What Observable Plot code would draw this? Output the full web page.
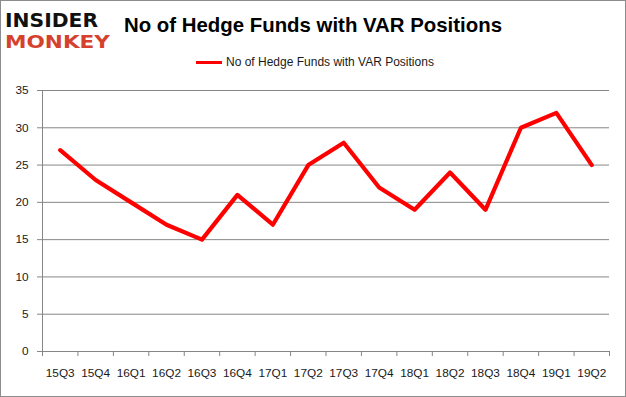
<!DOCTYPE html>
<html>
<head>
<meta charset="utf-8">
<script src="https://cdn.jsdelivr.net/npm/d3@7"></script>
<script src="https://cdn.jsdelivr.net/npm/@observablehq/plot@0.6"></script>
<style>
  html, body { margin: 0; padding: 0; background: #fff; }
  #wrap { position: relative; width: 626px; height: 397px; overflow: hidden; font-family: "Liberation Sans", Arial, sans-serif; }
  #frame { position: absolute; left: 0; top: 0; width: 624px; height: 395px; border: 1px solid #8c8c8c; pointer-events: none; }
  #chart { position: absolute; left: 0; top: 0; }
  #logo { position: absolute; left: 0; top: 0; }
  #title { position: absolute; left: 0; width: 626px; top: 15.3px; text-align: center; font-weight: bold; font-size: 20.4px; line-height: 20.4px; color: #000; }
  #legend { position: absolute; top: 56.4px; left: 196px; font-size: 12px; line-height: 12px; color: #1a1a1a; white-space: nowrap; }
  #legend .sw { display: inline-block; width: 26px; height: 3px; background: #ff0000; vertical-align: middle; margin-right: 4px; position: relative; top: -1px; }
</style>
</head>
<body>
<div id="wrap">
  <div id="chart"></div>
  <svg id="logo" width="120" height="55">
    <text x="5" y="26.5" font-family="DejaVu Sans" font-weight="bold" font-size="19" fill="#111" textLength="93" lengthAdjust="spacingAndGlyphs">INSIDER</text>
    <text x="5" y="48" font-family="DejaVu Sans" font-weight="bold" font-size="18" fill="#d6412d" textLength="105" lengthAdjust="spacingAndGlyphs">MONKEY</text>
  </svg>
  <div id="title">No of Hedge Funds with VAR Positions</div>
  <div id="legend"><span class="sw"></span>No of Hedge Funds with VAR Positions</div>
  <div id="frame"></div>
</div>
<script>
const quarters = ["15Q3","15Q4","16Q1","16Q2","16Q3","16Q4","17Q1","17Q2","17Q3","17Q4","18Q1","18Q2","18Q3","18Q4","19Q1","19Q2"];
const hedgeFunds = [27, 23, 20, 17, 15, 21, 17, 25, 28, 22, 19, 24, 19, 30, 32, 25];
const yTicks = [0, 5, 10, 15, 20, 25, 30, 35];

const idx = quarters.map((q, i) => i);
const bounds = d3.range(quarters.length + 1).map(i => i - 0.5);
const data = quarters.map((q, i) => ({i, q, v: hedgeFunds[i]}));
const gray = "#868686";

const chart = Plot.plot({
  width: 626,
  height: 397,
  marginTop: 90,
  marginBottom: 46,
  marginLeft: 42,
  marginRight: 17,
  style: {fontFamily: "Liberation Sans, Arial, sans-serif", fontSize: "11.8px", background: "transparent", color: "#1a1a1a"},
  x: {type: "linear", domain: [-0.5, quarters.length - 0.5], label: null},
  y: {domain: [0, 35], label: null},
  marks: [
    Plot.gridY(yTicks, {stroke: gray, strokeOpacity: 1, strokeWidth: 1}),
    Plot.ruleX([-0.5], {y1: 0, y2: 35, stroke: gray, strokeWidth: 1}),
    Plot.axisY({ticks: yTicks, tickSize: 5, tickPadding: 9, stroke: gray, fill: "#1a1a1a", label: null, tickFormat: d => d}),
    Plot.axisX({ticks: bounds, tickSize: 5, stroke: gray, tickFormat: () => "", label: null}),
    Plot.axisX({ticks: idx, tickSize: 0, tickPadding: 17, fill: "#1a1a1a", tickFormat: i => quarters[i], label: null}),
    Plot.line(data, {x: "i", y: "v", stroke: "#ff0000", strokeWidth: 4.2, strokeLinejoin: "round", strokeLinecap: "round"})
  ]
});
document.getElementById("chart").appendChild(chart);
</script>
</body>
</html>
